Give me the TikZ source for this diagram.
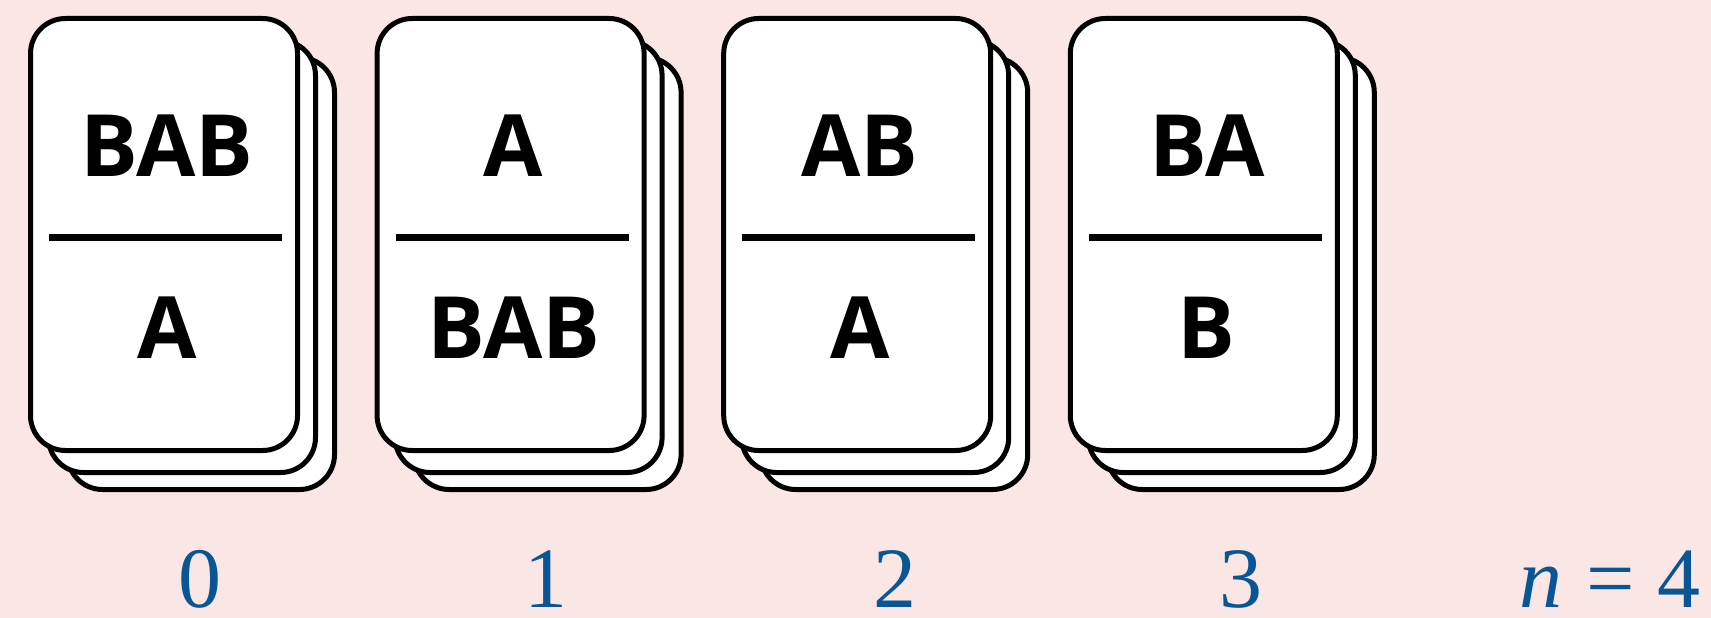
\documentclass[tikz,border=0pt]{standalone}
\usepackage{fontspec}
\setmainfont{Liberation Serif}
\newfontfamily\cardfont{Open Sans}
\definecolor{bgpink}{RGB}{250,230,228}
\definecolor{lblue}{RGB}{10,85,150}
\tikzset{
  cardbox/.style={draw=black, fill=white, line width=5pt, rounded corners=35pt},
  divider/.style={draw=black, line width=7pt},
  cardtext/.style={font=\cardfont\bfseries\fontsize{86}{100}\selectfont, inner sep=0pt, anchor=center},
  idxlabel/.style={font=\fontsize{86}{100}\selectfont, text=lblue, inner sep=0pt, anchor=base}
}
\newcommand{\stackcard}[4]{%
  % #1 x0, #2 name, #3 top text, #4 bottom text
  \draw[cardbox] (#1+1.5+37,18.5+39) rectangle (#1+268.5+37,450.5+39);
  \draw[cardbox] (#1+1.5+18,18.5+22) rectangle (#1+268.5+18,450.5+22);
  \draw[cardbox] (#1+1.5,18.5) rectangle (#1+268.5,450.5);
  \draw[divider] (#1+20,237) -- (#1+253,237);
  \node[cardtext] (#2top) at (#1+138,146) {#3};
  \node[cardtext] (#2bot) at (#1+138,328) {#4};
}
\begin{document}
\begin{tikzpicture}[x=1pt,y=-1pt]
\fill[bgpink] (0,0) rectangle (1711,618);
\useasboundingbox (0,0) rectangle (1711,618);
\stackcard{29}{c0}{BAB}{A}
\stackcard{375.6}{c1}{A}{BAB}
\stackcard{722.2}{c2}{AB}{A}
\stackcard{1068.8}{c3}{BA}{B}
\node[idxlabel] (l0) at (200,607) {0};
\node[idxlabel] (l1) at (546,607) {1};
\node[idxlabel] (l2) at (895,607) {2};
\node[idxlabel] (l3) at (1241,607) {3};
\node[idxlabel] (ln) at (1610,607) {\textit{n}\hspace{0.28em}=\hspace{0.27em}4};
\end{tikzpicture}
\end{document}
